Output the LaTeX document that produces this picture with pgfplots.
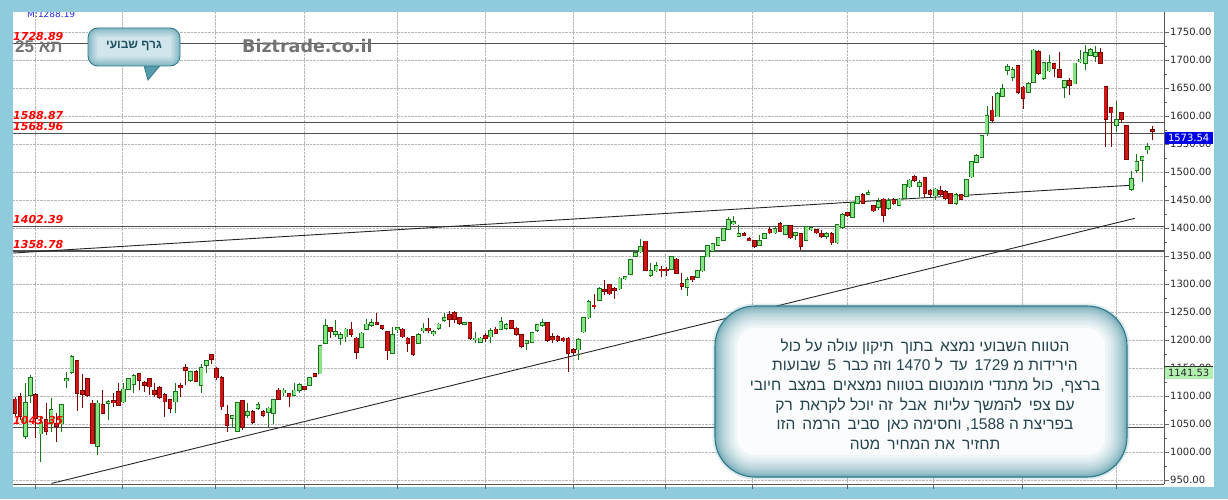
\documentclass[border=0pt]{standalone}
\usepackage{fontspec}
\usepackage{pgfplots}
\usepackage{pgfplotstable}
\pgfplotsset{compat=1.18}
\setmainfont{Liberation Sans}
\newfontfamily\dejavu{DejaVu Sans}
\newfontfamily\heb[Script=Hebrew]{Liberation Sans}
\TeXXeTstate=1
\newcommand\W[1]{\mbox{#1}}
\newcommand\dd{\hskip0.45em\relax}

\definecolor{bg}{RGB}{143,203,220}
\definecolor{upfill}{RGB}{135,228,135}
\definecolor{upline}{RGB}{25,115,25}
\definecolor{dnfill}{RGB}{205,22,22}
\definecolor{dnline}{RGB}{125,0,0}
\definecolor{lvl}{RGB}{80,80,80}
\definecolor{tealdark}{RGB}{50,122,138}
\definecolor{tealmid}{RGB}{85,155,170}
\definecolor{teallight}{RGB}{150,200,212}
\definecolor{calltext}{RGB}{38,68,78}
\definecolor{lblgreen}{RGB}{178,240,178}

\pgfplotstableread{
x o h l c
2 1029 1123 1023 1088
3 1102 1137 1087 1132
5 1033 1063 983 1052
7 1054 1096 1036 1076
9 1051 1084 1035 1084
10 1128 1143 1114 1131
11 1143 1173 1140 1170
16 1011 1093 995 1087
18 1088 1093 1057 1090
21 1090 1123 1087 1112
22 1112 1132 1111 1130
23 1121 1140 1105 1136
31 1090 1123 1070 1108
34 1129 1145 1126 1143
36 1120 1158 1106 1151
37 1155 1165 1142 1163
42 1061 1066 1045 1064
43 1038 1090 1036 1088
45 1066 1087 1060 1072
47 1079 1090 1075 1084
49 1072 1081 1044 1078
50 1070 1094 1051 1093
52 1106 1115 1100 1110
54 1102 1123 1100 1110
55 1111 1123 1106 1120
57 1120 1134 1118 1133
59 1140 1191 1139 1189
60 1195 1237 1194 1225
62 1211 1236 1206 1215
63 1203 1215 1191 1209
64 1206 1221 1197 1219
67 1188 1215 1187 1212
68 1219 1237 1218 1228
69 1227 1237 1224 1230
73 1177 1224 1176 1209
74 1219 1224 1212 1222
78 1194 1212 1193 1209
79 1217 1230 1212 1221
81 1212 1218 1207 1214
82 1221 1230 1218 1228
83 1236 1248 1233 1239
87 1229 1233 1227 1231
89 1201 1215 1194 1203
90 1197 1205 1194 1203
92 1206 1221 1195 1217
94 1219 1242 1218 1233
95 1221 1231 1218 1227
99 1195 1200 1182 1198
100 1197 1215 1195 1213
101 1218 1229 1215 1227
102 1227 1237 1224 1230
109 1183 1203 1164 1201
110 1215 1240 1212 1239
111 1240 1272 1238 1268
113 1271 1295 1270 1292
117 1292 1312 1290 1310
118 1310 1315 1308 1313
119 1318 1345 1316 1343
120 1350 1361 1348 1356
121 1358 1380 1356 1367
123 1316 1337 1313 1324
124 1324 1340 1322 1332
127 1326 1350 1325 1348
130 1294 1313 1279 1307
132 1313 1325 1312 1324
133 1324 1350 1322 1349
134 1349 1370 1348 1368
135 1359 1374 1358 1372
136 1370 1383 1368 1382
137 1378 1399 1377 1398
138 1398 1419 1396 1415
139 1408 1421 1405 1411
140 1386 1405 1385 1389
144 1369 1387 1368 1377
145 1382 1390 1380 1389
147 1392 1402 1390 1399
149 1389 1405 1388 1404
151 1387 1393 1378 1392
153 1378 1404 1377 1402
154 1397 1402 1394 1400
157 1385 1393 1381 1389
159 1374 1408 1371 1405
160 1402 1426 1399 1423
162 1420 1447 1419 1445
163 1445 1457 1444 1456
165 1461 1468 1459 1463
167 1438 1453 1432 1447
169 1435 1453 1433 1449
171 1441 1453 1439 1451
172 1453 1479 1451 1477
173 1474 1487 1472 1485
175 1475 1486 1456 1481
178 1458 1471 1450 1469
182 1444 1463 1441 1459
184 1457 1487 1456 1486
185 1492 1520 1490 1518
186 1518 1533 1517 1529
187 1527 1566 1526 1564
188 1570 1617 1564 1600
190 1599 1643 1598 1640
191 1636 1658 1635 1649
192 1682 1693 1673 1687
193 1670 1687 1663 1683
196 1643 1661 1641 1658
197 1661 1719 1660 1717
199 1667 1697 1664 1695
200 1681 1709 1679 1695
203 1651 1665 1632 1663
205 1658 1695 1657 1694
206 1697 1718 1694 1701
207 1695 1727 1682 1713
208 1709 1721 1707 1718
209 1707 1725 1697 1712
213 1584 1626 1572 1593
216 1469 1501 1467 1488
217 1504 1533 1499 1518
218 1521 1529 1483 1527
219 1540 1551 1533 1545
}\upT

\pgfplotstableread{
x o h l c
0 1094 1099 1064 1069
1 1099 1106 1057 1064
4 1102 1105 1026 1060
6 1057 1088 1030 1038
8 1051 1069 1018 1046
12 1163 1164 1074 1105
13 1109 1140 1078 1104
14 1130 1132 1099 1102
15 1087 1093 1015 1015
17 1084 1111 1069 1070
19 1091 1105 1081 1089
20 1108 1124 1082 1084
24 1140 1141 1111 1129
25 1124 1127 1108 1120
26 1130 1132 1102 1117
27 1109 1123 1099 1104
28 1114 1118 1094 1098
29 1102 1105 1062 1090
30 1093 1094 1070 1078
32 1118 1123 1099 1115
33 1150 1157 1120 1147
35 1143 1146 1126 1127
38 1173 1174 1157 1166
39 1149 1152 1129 1133
40 1133 1135 1075 1081
41 1066 1084 1036 1048
44 1092 1093 1039 1044
46 1072 1076 1051 1054
48 1072 1075 1063 1066
51 1110 1114 1093 1094
53 1104 1105 1081 1099
56 1116 1118 1110 1112
58 1140 1141 1134 1136
61 1222 1224 1203 1215
65 1219 1233 1206 1211
66 1203 1205 1167 1179
70 1231 1249 1227 1229
71 1225 1227 1218 1221
72 1215 1217 1165 1181
75 1219 1221 1203 1206
76 1203 1206 1179 1195
77 1205 1206 1171 1175
80 1221 1239 1212 1217
84 1245 1251 1224 1237
85 1249 1251 1230 1237
86 1239 1240 1227 1230
88 1230 1231 1201 1203
91 1207 1212 1197 1203
93 1219 1223 1212 1213
96 1234 1236 1219 1221
97 1221 1223 1207 1211
98 1209 1211 1185 1189
103 1230 1231 1197 1200
104 1206 1212 1194 1201
105 1206 1209 1197 1200
106 1203 1206 1197 1199
107 1203 1205 1143 1176
108 1183 1185 1173 1179
112 1262 1283 1256 1260
114 1290 1308 1280 1288
115 1298 1300 1280 1283
116 1292 1294 1274 1289
122 1376 1377 1324 1325
125 1326 1332 1313 1324
126 1326 1331 1314 1324
128 1344 1346 1319 1320
129 1300 1320 1289 1296
131 1313 1314 1304 1308
141 1390 1393 1386 1387
142 1381 1384 1377 1378
143 1377 1379 1364 1368
146 1396 1402 1390 1392
148 1408 1411 1393 1395
150 1404 1405 1381 1383
152 1390 1392 1361 1368
155 1396 1398 1389 1392
156 1389 1396 1382 1386
158 1390 1393 1370 1374
161 1427 1429 1420 1423
164 1459 1463 1443 1444
166 1439 1441 1429 1431
168 1451 1453 1411 1423
170 1450 1453 1441 1444
174 1492 1494 1483 1486
176 1489 1492 1453 1462
177 1467 1469 1456 1461
179 1467 1475 1457 1461
180 1465 1468 1450 1453
181 1461 1462 1444 1445
183 1459 1461 1450 1451
189 1610 1635 1590 1593
194 1689 1691 1640 1643
195 1651 1654 1612 1632
198 1715 1718 1673 1676
201 1693 1694 1670 1685
202 1682 1715 1667 1670
204 1663 1667 1637 1655
210 1713 1721 1693 1694
211 1652 1654 1545 1594
212 1614 1616 1545 1606
214 1606 1608 1587 1594
215 1582 1584 1521 1523
220 1575 1582 1557 1573.54
}\dnT

\pgfplotsset{candle/.style={only marks, mark=*, mark size=0pt, mark options={draw=none, fill=none},
  error bars/.cd, y dir=both, y explicit, error mark=none}}

\begin{document}
\begin{tikzpicture}
\useasboundingbox (0,0) rectangle (1228pt,499pt);
\fill[bg] (0,0) rectangle (1228pt,499pt);
\fill[white] (13pt,12pt) rectangle (1214pt,487pt);

\begin{axis}[
  at={(13pt,15pt)}, anchor=south west,
  scale only axis, width=1151pt, height=472pt,
  xmin=-0.387, xmax=222.24, ymin=943, ymax=1785.7,
  axis x line*=bottom, axis y line*=right,
  axis line style={draw=black!65, line width=0.9pt},
  xtick={3.87,20.7,38.7,55.9,73.9,90.9,107.9,125.7,142.7,160.9,177.6,194.8,213.0},
  xticklabels={},
  ytick={950,1000,...,1750},
  minor ytick={975,1025,...,1725},
  grid=major,
  major grid style={densely dotted, draw=black!28, line width=0.6pt},
  tick align=outside,
  major tick length=5pt, minor tick length=3pt,
  tick style={draw=black!60, line width=0.6pt},
  /pgf/number format/assume math mode=true,
  yticklabel={\pgfmathprintnumber[fixed,fixed zerofill,precision=2,1000 sep={}]{\tick}},
  yticklabel style={font=\dejavu\fontsize{10}{12}\selectfont, text=black!85, inner sep=0pt, xshift=1pt},
]
% support / resistance levels
\addplot[lvl, line width=1.3pt] coordinates {(-1,1728.89) (224,1728.89)};
\addplot[lvl, line width=1.3pt] coordinates {(-1,1588.87) (224,1588.87)};
\addplot[lvl, line width=1.3pt] coordinates {(-1,1568.96) (224,1568.96)};
\addplot[lvl, line width=1.3pt] coordinates {(-1,1402.39) (224,1402.39)};
\addplot[lvl, line width=1.3pt] coordinates {(-1,1358.78) (224,1358.78)};
\addplot[lvl, line width=1.3pt] coordinates {(-1,1043.35) (224,1043.35)};
% trend lines
\addplot[black!85, line width=0.9pt] coordinates {(-0.39,1355.4) (216.6,1476.8)};
\addplot[black!85, line width=0.9pt] coordinates {(7.1,944.1) (216.6,1417.3)};
% wicks
\addplot[candle, error bar style={draw=upline, line width=0.9pt, solid}]
  table[x=x, y expr={(\thisrow{h}+\thisrow{l})/2}, y error expr={(\thisrow{h}-\thisrow{l})/2}] {\upT};
\addplot[candle, error bar style={draw=dnline, line width=0.9pt, solid}]
  table[x=x, y expr={(\thisrow{h}+\thisrow{l})/2}, y error expr={(\thisrow{h}-\thisrow{l})/2}] {\dnT};
% bodies (outline then fill)
\addplot[candle, error bar style={draw=upline, line width=4.6pt, solid}]
  table[x=x, y expr={(\thisrow{o}+\thisrow{c})/2}, y error expr={abs(\thisrow{c}-\thisrow{o})/2+1.4}] {\upT};
\addplot[candle, error bar style={draw=upfill, line width=3.0pt, solid}]
  table[x=x, y expr={(\thisrow{o}+\thisrow{c})/2}, y error expr={max(abs(\thisrow{c}-\thisrow{o})/2,0.3)}] {\upT};
\addplot[candle, error bar style={draw=dnline, line width=4.6pt, solid}]
  table[x=x, y expr={(\thisrow{o}+\thisrow{c})/2}, y error expr={abs(\thisrow{c}-\thisrow{o})/2+1.4}] {\dnT};
\addplot[candle, error bar style={draw=dnfill, line width=3.0pt, solid}]
  table[x=x, y expr={(\thisrow{o}+\thisrow{c})/2}, y error expr={max(abs(\thisrow{c}-\thisrow{o})/2,0.3)}] {\dnT};

\coordinate (L1) at (axis cs:-0.387,1728.89);
\coordinate (L2) at (axis cs:-0.387,1588.87);
\coordinate (L3) at (axis cs:-0.387,1568.96);
\coordinate (L4) at (axis cs:-0.387,1402.39);
\coordinate (L5) at (axis cs:-0.387,1358.78);
\coordinate (L6) at (axis cs:-0.387,1043.35);
\coordinate (pblue) at (axis cs:222.24,1560.7);
\coordinate (pgreen) at (axis cs:222.24,1141.53);
\end{axis}

% level labels
\begin{scope}[every node/.style={anchor=south west, inner sep=0pt, text=red, yshift=2.5pt,
  font=\dejavu\bfseries\itshape\fontsize{11}{13}\selectfont}]
\node at (L1) {1728.89};
\node at (L2) {1588.87};
\node at (L3) {1568.96};
\node at (L4) {1402.39};
\node at (L5) {1358.78};
\node at (L6) {1043.35};
\end{scope}

% price boxes on the right axis
\node[fill={rgb,255:red,0;green,0;blue,230}, text=white, anchor=west, inner sep=0pt,
  minimum width=48pt, minimum height=12.5pt, font=\dejavu\fontsize{10}{12}\selectfont]
  at ([xshift=0.5pt]pblue) {1573.54};
\node[fill=lblgreen, text=black!85, anchor=west, inner sep=0pt,
  minimum width=48pt, minimum height=12.5pt, font=\dejavu\fontsize{10}{12}\selectfont]
  (gbox) at ([xshift=0.5pt]pgreen) {1141.53};
\draw[black!80, line width=0.8pt] (gbox.north west) -- (gbox.north east);

% top left texts
\node[anchor=base west, inner sep=0pt, text={rgb,255:red,40;green,40;blue,230},
  font=\dejavu\fontsize{9}{10}\selectfont] at (27pt,481pt) {M:1288.19};
\node[anchor=base west, inner sep=0pt, text=black!55,
  font=\heb\bfseries\fontsize{17}{19}\selectfont] at (15pt,446pt) {\beginR תא \beginL 25\endL\endR};
\node[anchor=base west, inner sep=0pt, text=black!55,
  font=\dejavu\bfseries\fontsize{17.5}{19}\selectfont] at (242pt,446pt) {Biztrade.co.il};

% speech bubble
\filldraw[fill=tealmid, draw=tealdark, line width=0.8pt] (143pt,437pt) -- (148pt,419pt) -- (163pt,437pt) -- cycle;
\fill[teallight!45!white, rounded corners=10pt] (88pt,433pt) rectangle (180pt,471pt);
\begin{scope}
\clip[rounded corners=10pt] (88pt,433pt) rectangle (180pt,471pt);
\foreach \w/\o in {18/0.12,14/0.12,10/0.14,7/0.16,4/0.2}{
  \draw[tealmid, opacity=\o, line width=\w pt, rounded corners=10pt] (88pt,433pt) rectangle (180pt,471pt);}
\end{scope}
\draw[tealdark, line width=0.9pt, rounded corners=10pt] (88pt,433pt) rectangle (180pt,471pt);
\node[inner sep=0pt, text={rgb,255:red,30;green,80;blue,95}, font=\heb\bfseries\fontsize{12}{14}\selectfont]
  at (134pt,453pt) {\beginR\W{גרף} \W{שבועי}\endR};

% big callout
\draw[tealmid, opacity=0.2, line width=5pt, rounded corners=40pt] (715pt,22pt) rectangle (1127pt,193pt);
\fill[white!95!teallight, rounded corners=40pt] (715pt,22pt) rectangle (1127pt,193pt);
\begin{scope}
\clip[rounded corners=40pt] (715pt,22pt) rectangle (1127pt,193pt);
\foreach \w/\o in {44/0.07,38/0.07,32/0.08,27/0.09,22/0.1,17/0.12,13/0.14,9/0.16,6/0.2,3/0.3}{
  \draw[tealmid, opacity=\o, line width=\w pt, rounded corners=40pt] (715pt,22pt) rectangle (1127pt,193pt);}
\end{scope}
\draw[tealdark, line width=1.1pt, rounded corners=40pt] (715pt,22pt) rectangle (1127pt,193pt);
\node[align=center, inner sep=0pt, text=calltext, font=\heb\fontsize{15.5}{19.6}\selectfont]
  at (925pt,105pt) {%
\beginR\W{הטווח} \W{השבועי} \W{נמצא}\dd\W{בתוך}\dd\W{תיקון} \W{עולה} \W{על} \W{כול}\endR\\
\beginR\W{הירידות} \W{מ} \W{1729}\dd\W{עד}\dd\W{ל} \W{1470} \W{וזה} \W{כבר}\dd\W{5}\dd\W{שבועות}\endR\\
\beginR\W{ברצף,}\dd\W{כול} \W{מתנדי} \W{מומנטום} \W{בטווח} \W{נמצאים}\dd\W{במצב}\dd\W{חיובי}\endR\\
\beginR\W{עם} \W{צפי}\dd\W{להמשך} \W{עליות}\dd\W{אבל}\dd\W{זה} \W{יוכל} \W{לקראת}\dd\W{רק}\endR\\
\beginR\W{בפריצת} \W{ה} \W{1588,} \W{וחסימה} \W{כאן}\dd\W{סביב}\dd\W{הרמה}\dd\W{הזו}\endR\\
\beginR\W{תחזיר}\dd\W{את} \W{המחיר}\dd\W{מטה}\endR};

\fill[bg] (0,487pt) rectangle (1228pt,499pt);
\end{tikzpicture}
\end{document}
